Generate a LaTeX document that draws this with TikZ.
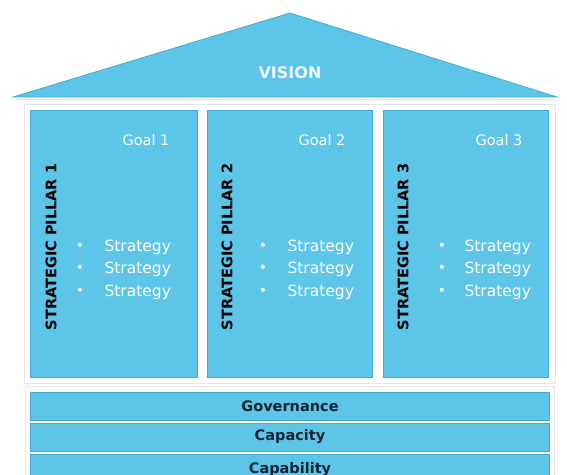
\documentclass[tikz,border=0pt]{standalone}
\usepackage{fontspec}
\setmainfont{DejaVu Sans}
\definecolor{pillarblue}{HTML}{5CC5E8}
\definecolor{edgeblue}{HTML}{41ABD3}
\definecolor{bandnavy}{HTML}{0F2335}
\definecolor{visionwhite}{HTML}{EEF8FC}

\begin{document}
\begin{tikzpicture}[x=1pt,y=-1pt,
  block/.style={fill=pillarblue,draw=edgeblue,line width=0.8pt},
  frame/.style={draw=black!10,line width=1pt},
  title/.style={rotate=90,text=black,font=\bfseries\fontsize{14.5}{16}\selectfont},
  goal/.style={anchor=east,text=white,font=\fontsize{14.5}{16}\selectfont},
  strat/.style={anchor=west,text=white,font=\fontsize{15.5}{17}\selectfont},
  dot/.style={text=white,font=\fontsize{14}{16}\selectfont},
  band/.style={text=bandnavy,font=\bfseries\fontsize{14.5}{16}\selectfont}]

\useasboundingbox (0,0) rectangle (567,474) ;

% roof
\draw [frame] (14,99) -- (556,99) ;
\draw [block] (13,97) -- (290,13) -- (557,97) -- cycle ;
\node (vision) at (290,73) [text=visionwhite,font=\bfseries\fontsize{16}{18}\selectfont] {VISION} ;

% pillars
\draw [frame] (24,104) rectangle (555,383) ;
\draw [block] (30,110) rectangle (197,377) ;
\draw [block] (207,110) rectangle (372,377) ;
\draw [block] (383,110) rectangle (548,377) ;

\node (pillar1) at (51,247) [title] {STRATEGIC PILLAR 1} ;
\node (pillar2) at (227,247) [title] {STRATEGIC PILLAR 2} ;
\node (pillar3) at (403,247) [title] {STRATEGIC PILLAR 3} ;

\node (goal1) at (173,140) [goal] {Goal 1} ;
\node (goal2) at (349,140) [goal] {Goal 2} ;
\node (goal3) at (526,140) [goal] {Goal 3} ;

\node (dot1a) at (80,247) [dot] {•} ;
\node (dot1b) at (80,269) [dot] {•} ;
\node (dot1c) at (80,292) [dot] {•} ;
\node (strat1a) at (101,247) [strat] {Strategy} ;
\node (strat1b) at (101,269) [strat] {Strategy} ;
\node (strat1c) at (101,292) [strat] {Strategy} ;

\node (dot2a) at (263,247) [dot] {•} ;
\node (dot2b) at (263,269) [dot] {•} ;
\node (dot2c) at (263,292) [dot] {•} ;
\node (strat2a) at (284,247) [strat] {Strategy} ;
\node (strat2b) at (284,269) [strat] {Strategy} ;
\node (strat2c) at (284,292) [strat] {Strategy} ;

\node (dot3a) at (442,247) [dot] {•} ;
\node (dot3b) at (442,269) [dot] {•} ;
\node (dot3c) at (442,292) [dot] {•} ;
\node (strat3a) at (461,247) [strat] {Strategy} ;
\node (strat3b) at (461,269) [strat] {Strategy} ;
\node (strat3c) at (461,292) [strat] {Strategy} ;

% foundation
\draw [frame] (25,386) rectangle (554,480) ;
\draw [block] (30,392) rectangle (549,420) ;
\draw [block] (30,423) rectangle (549,451) ;
\draw [block] (30,454) rectangle (549,486) ;
\node (governance) at (290,406) [band] {Governance} ;
\node (capacity) at (290,437) [band] {Capacity} ;
\node (capability) at (290,470) [band] {Capability} ;
\end{tikzpicture}
\end{document}
